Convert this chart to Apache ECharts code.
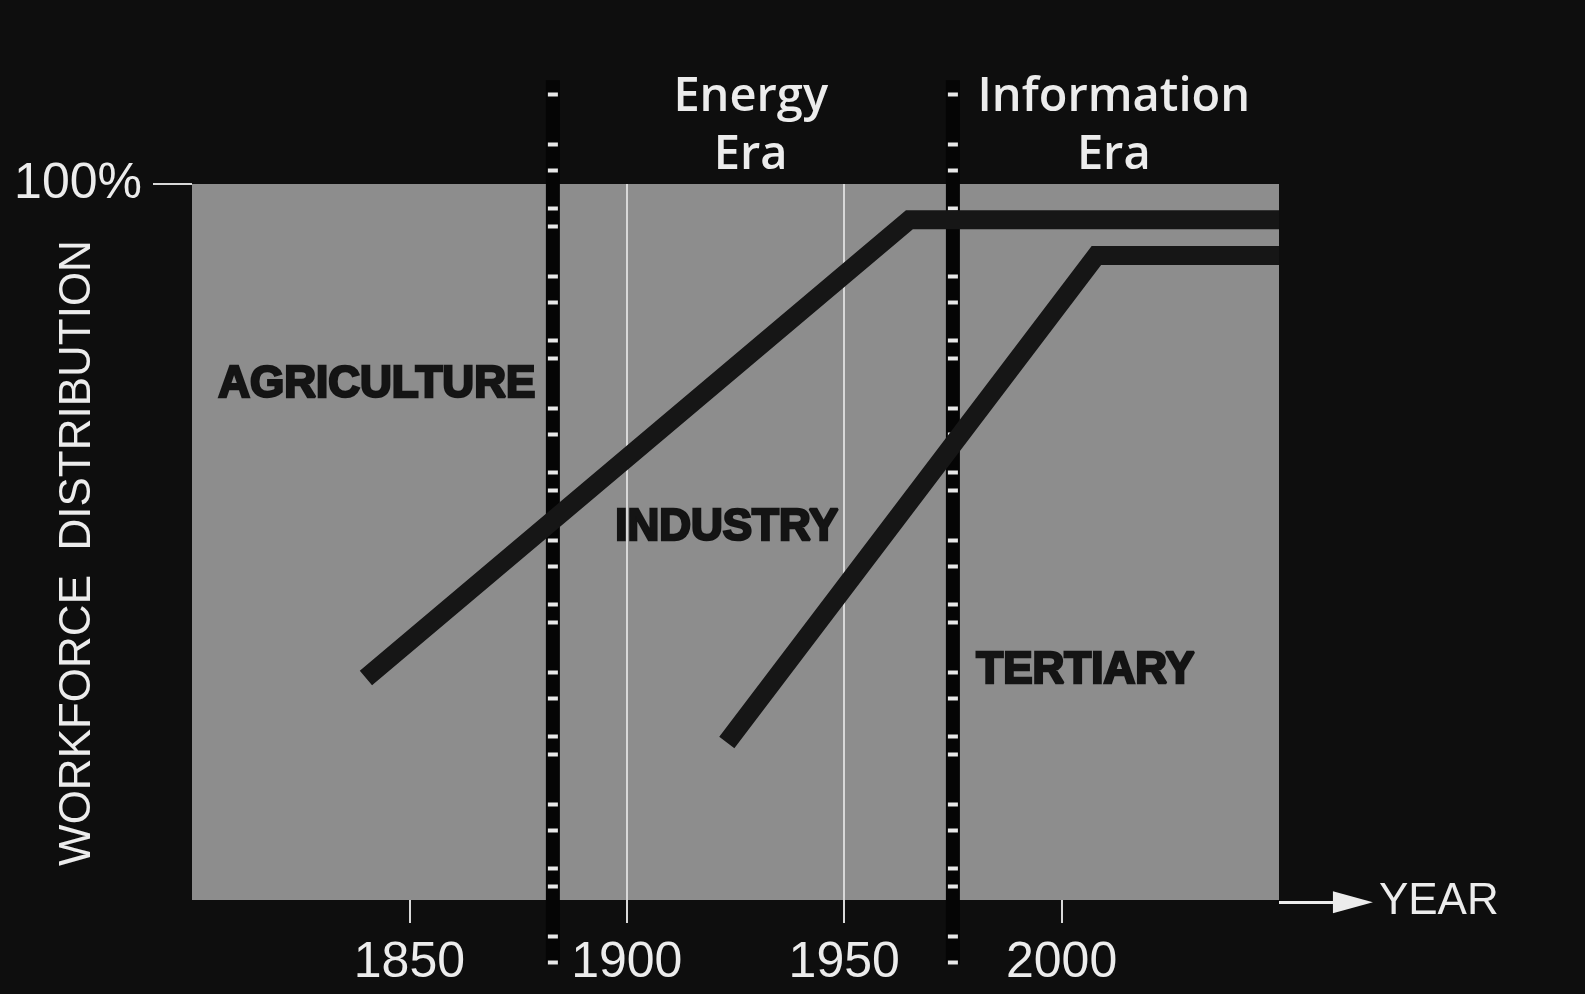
<!DOCTYPE html>
<html>
<head>
<meta charset="utf-8">
<script src="https://cdn.jsdelivr.net/npm/echarts@6/dist/echarts.min.js"></script>
<style>
  html, body { margin: 0; padding: 0; background: #0e0e0e; }
  #chart { width: 1585px; height: 994px; }
</style>
</head>
<body>
<div id="chart"></div>
<script>
// values
var tickYears = [1850, 1900, 1950, 2000];
var industryLine = [[1840, 31], [1965, 95], [2050, 95]];
var tertiaryLine = [[1923, 22], [2008, 90], [2050, 90]];
var eraBounds = [1883, 1975];
var eraNames = ['Energy\nEra', 'Information\nEra'];
var eraLabelAt = [[1928.5, 108], [2012, 108]];
var sectorNames = ['AGRICULTURE', 'INDUSTRY', 'TERTIARY'];
var sectorLabelAt = [[1842.5, 72], [1923, 52], [2005.5, 32]];

// plot box in pixels, the outer grid uses the same scale
var W = 1585, H = 994;
var plotL = 192, plotT = 184, plotR = 1279, plotB = 900;
var pxYear = (plotR - plotL) / 250;
var pxPct = (plotB - plotT) / 100;
var outerXMax = 1800 + (W - plotL) / pxYear;
var outerYMin = -(H - plotB) / pxPct;
var outerYMax = 100 + plotT / pxPct;

var ink = '#161616';
var paper = '#ececec';

var chart = echarts.init(document.getElementById('chart'));

var series = [];

// era boundaries: black band with white nicks
eraBounds.forEach(function (b) {
  var d = [[b, -9], [b, 114.5]];
  series.push({
    type: 'line', xAxisIndex: 1, yAxisIndex: 1, data: d, symbol: 'none', z: 3,
    lineStyle: { color: '#050505', width: 14, cap: 'butt' }
  });
  series.push({
    type: 'line', xAxisIndex: 1, yAxisIndex: 1, data: d, symbol: 'none', z: 4,
    lineStyle: { color: '#e8e8e8', width: 10, type: [4, 22, 4, 46, 4, 14, 4, 34], cap: 'butt' }
  });
});

[industryLine, tertiaryLine].forEach(function (d) {
  series.push({
    type: 'line', xAxisIndex: 0, yAxisIndex: 0, data: d, symbol: 'none', z: 5,
    lineStyle: { color: ink, width: 19, cap: 'butt', join: 'miter' }
  });
});

series.push({
  type: 'scatter', xAxisIndex: 0, yAxisIndex: 0, z: 6,
  data: sectorLabelAt, symbolSize: 1, itemStyle: { color: 'transparent', opacity: 1 },
  label: {
    show: true, position: 'inside',
    formatter: function (p) { return sectorNames[p.dataIndex]; },
    fontFamily: 'Liberation Sans, Arial, sans-serif', fontWeight: 'bold',
    fontSize: 44, color: '#141414', textBorderColor: '#141414', textBorderWidth: 2.5
  }
});

series.push({
  type: 'scatter', xAxisIndex: 1, yAxisIndex: 1, z: 6,
  data: eraLabelAt, symbolSize: 1, itemStyle: { color: 'transparent', opacity: 1 },
  label: {
    show: true, position: 'inside',
    formatter: function (p) { return eraNames[p.dataIndex]; },
    fontFamily: 'Open Sans, sans-serif', fontWeight: 600,
    fontSize: 47, lineHeight: 58, color: paper, align: 'center'
  }
});

// YEAR arrow
series.push({
  type: 'line', xAxisIndex: 1, yAxisIndex: 1, data: [], z: 6,
  markLine: {
    silent: true, animation: false,
    symbol: ['none', 'triangle'], symbolSize: [22, 40],
    lineStyle: { color: paper, width: 3, type: 'solid' },
    label: {
      show: true, position: 'end', distance: 26, formatter: 'YEAR',
      fontFamily: 'Liberation Sans, Arial, sans-serif', fontSize: 44, color: paper
    },
    data: [[{ coord: [2050, -0.3] }, { coord: [2067, -0.3] }]]
  }
});

var option = {
  backgroundColor: '#0e0e0e',
  animation: false,
  grid: [
    { left: plotL, top: plotT, width: plotR - plotL, height: plotB - plotT,
      outerBoundsMode: 'none', containLabel: false,
      show: true, backgroundColor: '#8d8d8d', borderWidth: 0 },
    { left: plotL, top: 0, right: 0, bottom: 0, outerBoundsMode: 'none', containLabel: false }
  ],
  xAxis: [
    {
      type: 'value', gridIndex: 0, min: 1800, max: 2050, interval: 50,
      axisLine: { show: false },
      axisTick: { show: true, customValues: tickYears, length: 23, lineStyle: { color: '#d8d8d8', width: 2 } },
      axisLabel: {
        customValues: tickYears, margin: 38,
        formatter: function (v) { return tickYears.indexOf(v) >= 0 ? String(v) : ''; },
        fontFamily: 'Liberation Sans, Arial, sans-serif', fontSize: 50, color: paper
      },
      splitLine: { show: true, showMinLine: false, showMaxLine: false, lineStyle: { color: '#d8d8d8', width: 2 } }
    },
    { type: 'value', gridIndex: 1, min: 1800, max: outerXMax, show: false }
  ],
  yAxis: [
    {
      type: 'value', gridIndex: 0, min: 0, max: 100, interval: 100,
      name: 'WORKFORCE  DISTRIBUTION', nameLocation: 'middle', nameGap: 92, nameMoveOverlap: false,
      nameTextStyle: { fontFamily: 'Liberation Sans, Arial, sans-serif', fontSize: 44, color: paper, padding: [0, 22, 0, 0] },
      axisLine: { show: false },
      axisTick: { show: true, customValues: [100], length: 39, lineStyle: { color: '#d8d8d8', width: 2 } },
      axisLabel: {
        customValues: [100], margin: 50,
        formatter: function (v) { return v === 100 ? '100%' : ''; },
        fontFamily: 'Liberation Sans, Arial, sans-serif', fontSize: 50, color: paper
      },
      splitLine: { show: false }
    },
    { type: 'value', gridIndex: 1, min: outerYMin, max: outerYMax, show: false }
  ],
  series: series
};

chart.setOption(option);
</script>
</body>
</html>
